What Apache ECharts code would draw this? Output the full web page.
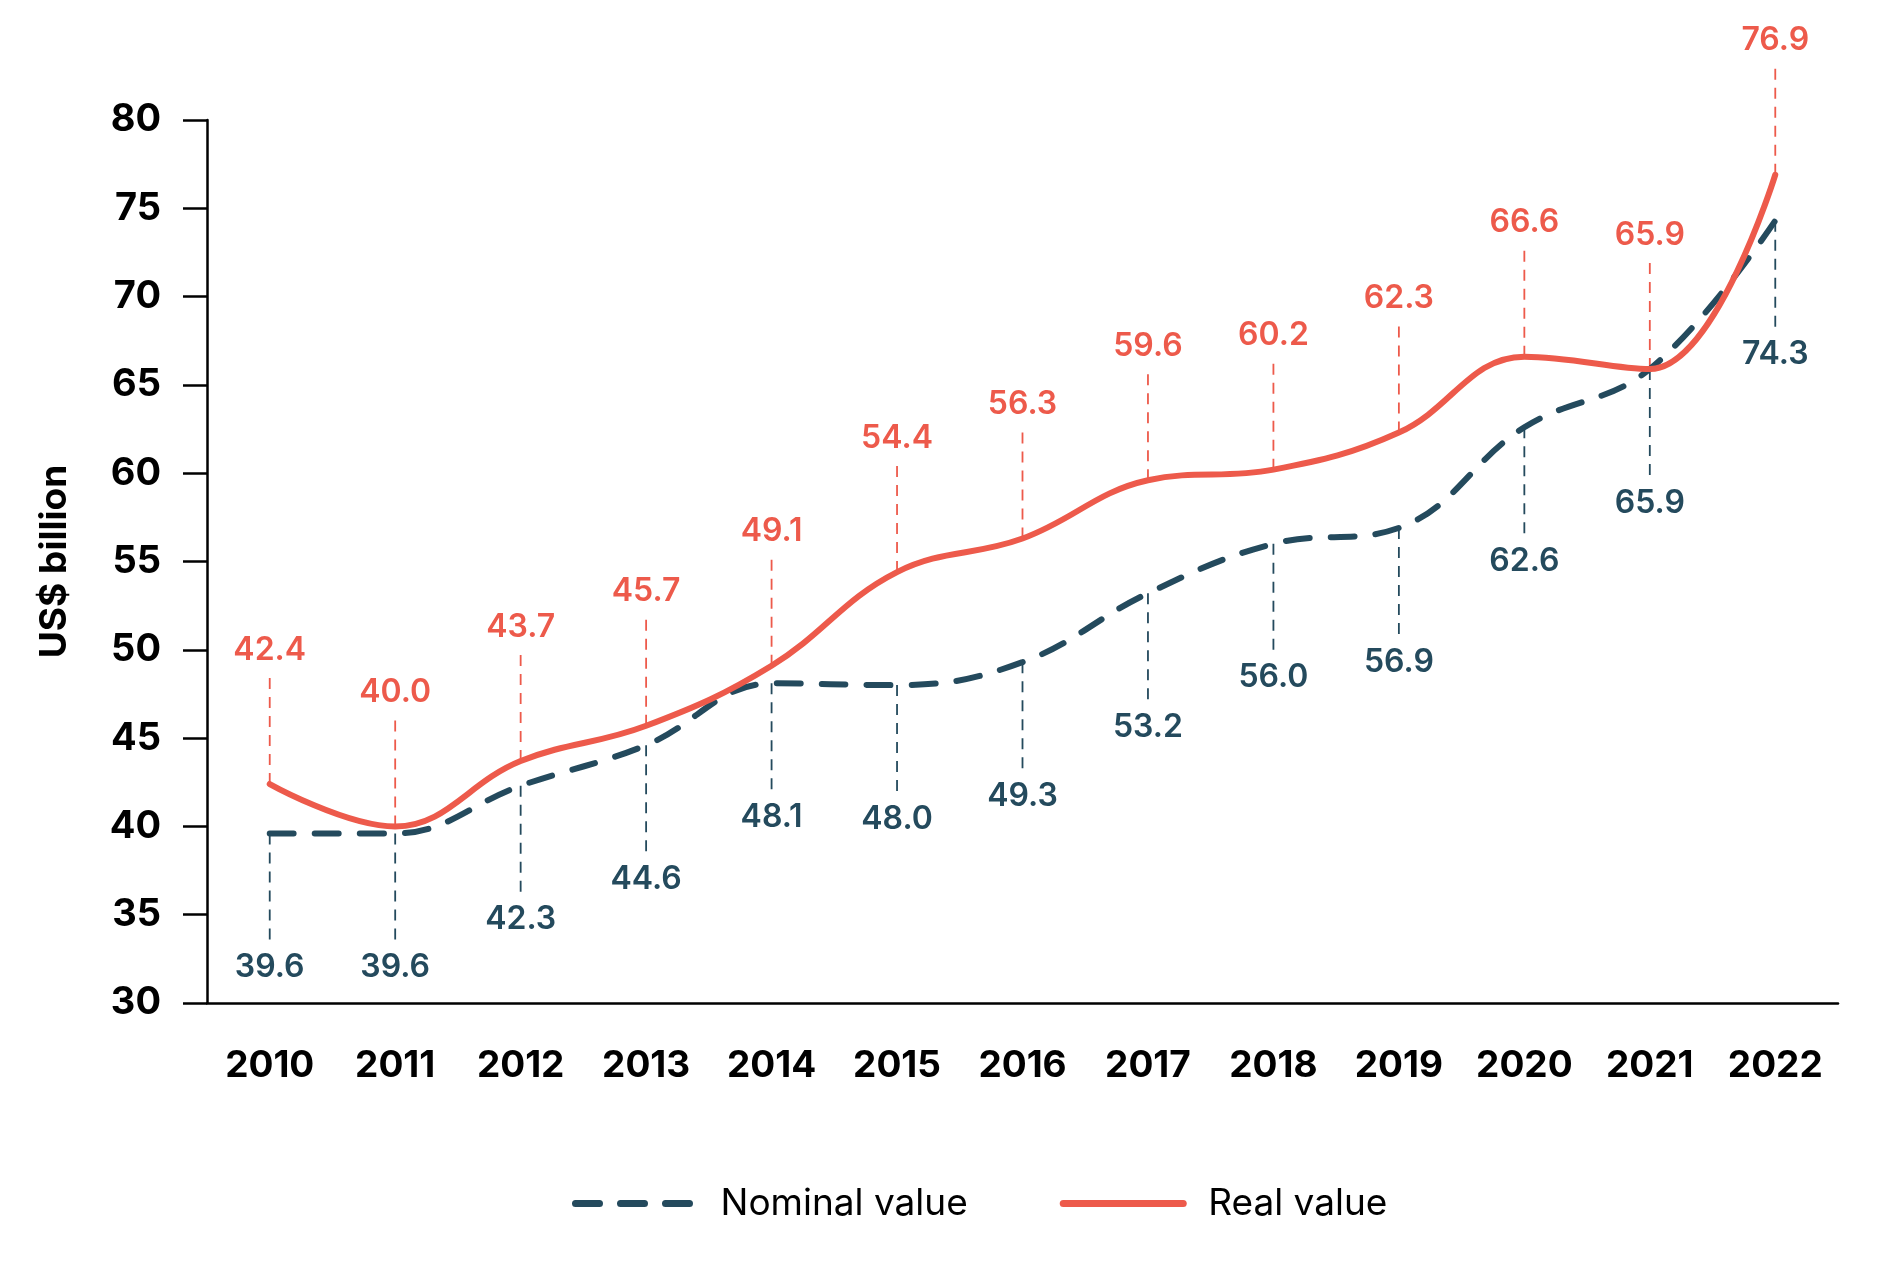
<!DOCTYPE html>
<html>
<head>
<meta charset="utf-8">
<script src="https://cdn.jsdelivr.net/npm/echarts@6/dist/echarts.min.js"></script>
<style>
  html, body { margin: 0; padding: 0; background: #fff; }
  #chart { width: 1894px; height: 1280px; }
</style>
</head>
<body>
<div id="chart"></div>
<script>
// Values
const years = ['2010', '2011', '2012', '2013', '2014', '2015', '2016', '2017', '2018', '2019', '2020', '2021', '2022'];
const nominalValue = [39.6, 39.6, 42.3, 44.6, 48.1, 48.0, 49.3, 53.2, 56.0, 56.9, 62.6, 65.9, 74.3];
const realValue = [42.4, 40.0, 43.7, 45.7, 49.1, 54.4, 56.3, 59.6, 60.2, 62.3, 66.6, 65.9, 76.9];

const RED = '#ED5A4B';
const NAVY = '#244A5D';
const FONT = 'Inter, "Noto Sans", sans-serif';

// leader line + value text, drawn above (dir -1) or below (dir 1) the point
function leaderLabels(color, dir) {
  return function (params, api) {
    const pt = api.coord([api.value(0), api.value(1)]);
    const lineLen = 106;
    const textGap = 134;
    return {
      type: 'group',
      children: [
        {
          type: 'line',
          shape: { x1: pt[0], y1: pt[1], x2: pt[0], y2: pt[1] + dir * lineLen },
          style: { stroke: color, lineWidth: 1.8, lineDash: [11, 8] }
        },
        {
          type: 'text',
          x: pt[0],
          y: pt[1] + dir * textGap,
          style: {
            text: api.value(1).toFixed(1),
            fill: color,
            font: '600 32px ' + FONT,
            textAlign: 'center',
            textVerticalAlign: 'middle'
          }
        }
      ]
    };
  };
}

const chart = echarts.init(document.getElementById('chart'));
chart.setOption({
  backgroundColor: '#fff',
  animation: false,
  textStyle: { fontFamily: FONT },
  grid: { left: 207, right: 56, top: 120, bottom: 277 },
  legend: {
    data: ['Nominal value', 'Real value'],
    left: 567,
    top: 1180,
    itemWidth: 120,
    itemHeight: 14,
    itemGap: 92,
    itemStyle: { opacity: 0 },
    lineStyle: { width: 7, cap: 'round' },
    textStyle: { fontSize: 37, color: '#000', fontFamily: FONT, padding: [0, 0, 0, 20] }
  },
  xAxis: {
    type: 'category',
    data: years,
    boundaryGap: true,
    axisLine: { lineStyle: { color: '#000', width: 2.5 } },
    axisTick: { alignWithLabel: true, interval: 0, length: 26, lineStyle: { color: '#000', width: 2.5 } },
    axisLabel: { interval: 0, fontSize: 37, fontWeight: 'bold', color: '#000', margin: 44, fontFamily: FONT }
  },
  yAxis: {
    type: 'value',
    min: 30,
    max: 80,
    interval: 5,
    name: 'US$ billion',
    nameLocation: 'middle',
    nameGap: 134,
    nameTextStyle: { fontSize: 37, fontWeight: 'bold', color: '#000', fontFamily: FONT },
    splitLine: { show: false },
    axisLine: { show: true, lineStyle: { color: '#000', width: 2.5 } },
    axisTick: { show: true, length: 24, lineStyle: { color: '#000', width: 2.5 } },
    axisLabel: { fontSize: 38, fontWeight: 'bold', color: '#000', margin: 46, fontFamily: FONT }
  },
  series: [
    {
      name: 'Nominal value',
      type: 'line',
      data: nominalValue,
      smooth: 0.4,
      showSymbol: false,
      symbol: 'none',
      color: NAVY,
      lineStyle: { color: NAVY, width: 6, type: [24, 21], cap: 'round' },
      z: 3
    },
    {
      name: 'Real value',
      type: 'line',
      data: realValue,
      smooth: 0.4,
      showSymbol: false,
      symbol: 'none',
      color: RED,
      lineStyle: { color: RED, width: 6, cap: 'round' },
      z: 4
    },
    {
      type: 'custom',
      name: 'nominal labels',
      data: nominalValue.map((v, i) => [i, v]),
      renderItem: leaderLabels(NAVY, 1),
      silent: true,
      z: 2
    },
    {
      type: 'custom',
      name: 'real labels',
      data: realValue.map((v, i) => [i, v]),
      renderItem: leaderLabels(RED, -1),
      silent: true,
      z: 2
    }
  ]
});
</script>
</body>
</html>
